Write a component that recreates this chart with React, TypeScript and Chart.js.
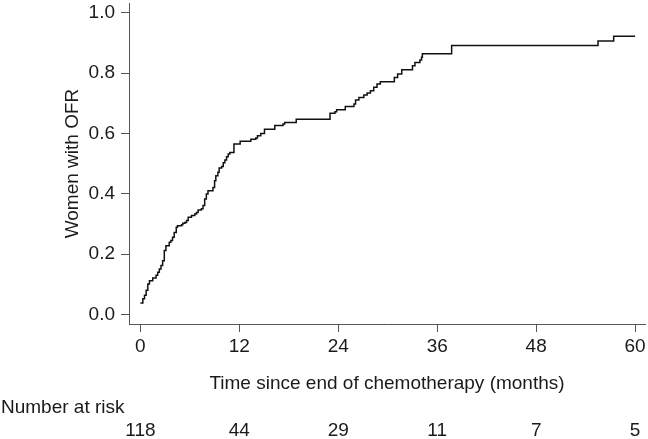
import React, { useEffect, useRef } from "react";
import { Chart, registerables } from "chart.js";

Chart.register(...registerables);

const months = [0.0, 0.3, 0.5, 0.7, 0.9, 1.1, 1.5, 1.9, 2.1, 2.3, 2.5, 2.7, 2.9, 3.1, 3.5, 3.7, 3.9, 4.1, 4.35, 4.5, 5.0, 5.15, 5.4, 5.6, 5.8, 6.2, 6.6, 6.8, 7.0, 7.4, 7.6, 7.8, 8.0, 8.2, 8.8, 9.0, 9.15, 9.4, 9.55, 9.85, 10.05, 10.25, 10.45, 10.65, 10.85, 11.35, 12.1, 13.4, 14.0, 14.2, 14.6, 15.05, 16.3, 17.3, 17.5, 18.9, 23.0, 23.6, 23.8, 24.85, 25.9, 26.1, 26.5, 27.1, 27.5, 27.9, 28.3, 28.7, 29.1, 30.8, 31.2, 31.7, 33.0, 33.3, 33.9, 34.1, 34.2, 37.75, 55.5, 57.4, 60.0];

const ofr = [0.038, 0.052, 0.064, 0.08, 0.101, 0.112, 0.121, 0.13, 0.14, 0.151, 0.162, 0.178, 0.212, 0.228, 0.239, 0.245, 0.256, 0.272, 0.289, 0.294, 0.297, 0.302, 0.305, 0.311, 0.322, 0.328, 0.333, 0.338, 0.346, 0.35, 0.361, 0.383, 0.399, 0.41, 0.421, 0.443, 0.46, 0.471, 0.485, 0.49, 0.503, 0.512, 0.523, 0.532, 0.537, 0.565, 0.574, 0.581, 0.585, 0.592, 0.6, 0.614, 0.626, 0.631, 0.636, 0.647, 0.667, 0.672, 0.678, 0.689, 0.697, 0.711, 0.719, 0.727, 0.734, 0.741, 0.753, 0.764, 0.771, 0.785, 0.797, 0.811, 0.824, 0.835, 0.843, 0.852, 0.864, 0.891, 0.906, 0.922, 0.922];

const xTicks = [0, 12, 24, 36, 48, 60];
const yTicks = [0, 0.2, 0.4, 0.6, 0.8, 1.0];
const atRisk = [118, 44, 29, 11, 7, 5];

const FONT = "'Liberation Sans', Arial, sans-serif";
const TEXT = "#1a1a1a";
const AXIS = "#555555";

export default function App() {
  const ref = useRef<HTMLCanvasElement | null>(null);

  useEffect(() => {
    document.body.style.margin = "0";
    const canvas = ref.current;
    if (!canvas) return;

    const riskPlugin = {
      id: "riskTable",
      afterDraw(chart: any) {
        const ctx = chart.ctx;
        const xs = chart.scales.x;
        ctx.save();
        ctx.fillStyle = TEXT;
        ctx.font = `19px ${FONT}`;
        ctx.textBaseline = "middle";
        ctx.textAlign = "left";
        ctx.fillText("Number at risk", 1, 408);
        ctx.textAlign = "center";
        atRisk.forEach((n, i) => {
          ctx.fillText(String(n), xs.getPixelForValue(xTicks[i]), 431);
        });
        ctx.restore();
      },
    };

    const chart = new Chart(canvas, {
      type: "line",
      data: {
        datasets: [
          {
            data: months.map((m, i) => ({ x: m, y: ofr[i] })),
            borderColor: "#111111",
            borderWidth: 1.5,
            pointRadius: 0,
            stepped: "before",
            fill: false,
          },
        ],
      },
      options: {
        animation: false,
        responsive: false,
        maintainAspectRatio: false,
        layout: { padding: { top: 3, right: 3, left: 0, bottom: 0 } },
        plugins: { legend: { display: false }, tooltip: { enabled: false } },
        scales: {
          x: {
            type: "linear",
            min: -1.38,
            max: 61.2,
            afterBuildTicks: (s: any) => {
              s.ticks = xTicks.map((v) => ({ value: v }));
            },
            afterFit: (s: any) => {
              s.height = 115;
              s.paddingLeft = 0;
              s.paddingRight = 0;
            },
            grid: { drawOnChartArea: false, drawTicks: true, tickLength: 8, color: AXIS },
            border: { display: true, color: AXIS, width: 1 },
            ticks: {
              color: TEXT,
              font: { family: FONT, size: 19 },
              padding: 3,
              maxRotation: 0,
              callback: (v: any) => String(v),
            },
            title: {
              display: true,
              text: "Time since end of chemotherapy (months)",
              color: TEXT,
              font: { family: FONT, size: 19 },
              padding: { top: 0, bottom: 44 },
            },
          },
          y: {
            type: "linear",
            min: -0.0315,
            max: 1.032,
            afterBuildTicks: (s: any) => {
              s.ticks = yTicks.map((v) => ({ value: v }));
            },
            afterFit: (s: any) => {
              s.width = 129;
              s.paddingTop = 0;
              s.paddingBottom = 0;
            },
            grid: { drawOnChartArea: false, drawTicks: true, tickLength: 8, color: AXIS },
            border: { display: true, color: AXIS, width: 1 },
            ticks: {
              color: TEXT,
              font: { family: FONT, size: 19 },
              padding: 6,
              callback: (v: any) => Number(v).toFixed(1),
            },
            title: {
              display: true,
              text: "Women with OFR",
              color: TEXT,
              font: { family: FONT, size: 19 },
              padding: { top: 61, bottom: 0 },
            },
          },
        },
      },
      plugins: [riskPlugin],
    } as any);

    return () => chart.destroy();
  }, []);

  return (
    <canvas
      ref={ref}
      width={648}
      height={439}
      style={{ display: "block", width: "648px", height: "439px" }}
    />
  );
}
